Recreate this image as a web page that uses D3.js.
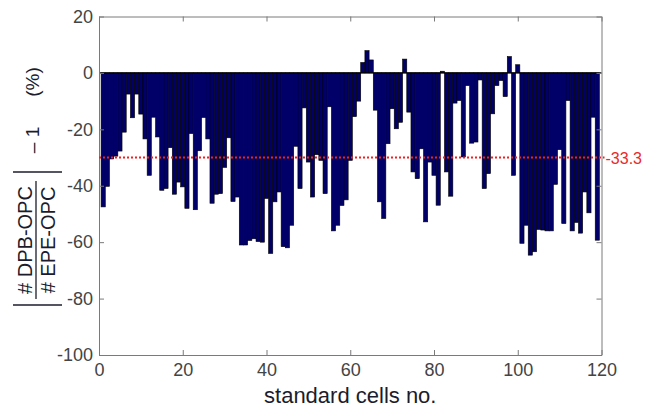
<!DOCTYPE html>
<html><head><meta charset="utf-8">
<script src="https://cdn.jsdelivr.net/npm/d3@7"></script>
<style>body{margin:0;background:#fff}svg{display:block}</style>
</head><body>
<script>
// ---------- data ----------
const cellNos = d3.range(1, 120); // standard cells 1..119
const deviation = [
 -47.5,-40.2,-30.5,-29.5,-27.7,-21,-7.5,-15.9,-7.5,-14.6,
 -23.4,-36.3,-15.7,-22.7,-41.6,-41,-26.5,-43,-38.7,-40.4,
 -48,-21.5,-48.5,-27.6,-15.8,-23.4,-46.2,-43,-42.8,-33.5,
 -23,-45.6,-44,-61,-61,-59.4,-58.8,-59.8,-60,-44.5,
 -64,-45.7,-42.2,-61.6,-62,-54,-26,-41,-12.4,-31.6,
 -44,-29,-31,-42.8,-12,-56,-54,-47,-45,-31,
 -15.5,-10,3.7,7.9,4.6,-13.2,-45.7,-51.6,-25.1,-12.7,
 -19.8,-17.5,4.9,-13.9,-35.1,-37.5,-26.9,-52.8,-31.6,-36.3,
 -46.9,0.6,-35.1,-43.7,-10.7,-9.8,-29.8,-4.5,-24.9,-24.5,
 -2.5,-41,-35.7,-14.5,-4.5,-2.7,-8.4,5.8,-36.3,2.9,
 -60.4,-54,-64.6,-63.4,-55.5,-55.7,-56,-56,-39.5,-27.2,
 -53.4,-9.8,-56,-53,-56.8,-42.2,-49.6,-15.7,-59.3
];
const xTicks = [0, 20, 40, 60, 80, 100, 120];
const yTicks = [20, 0, -20, -40, -60, -80, -100];
const refLineValue = -30;
const refLabel = "-33.3";
const xLabel = "standard cells no.";

// ---------- layout ----------
const W = 651, H = 408;
const L = 99, R = 601.5, T = 16.5, B = 355;
const x = d3.scaleLinear().domain([0, 120]).range([L, R]);
const y = d3.scaleLinear().domain([-100, 20]).range([B, T]);
const svg = d3.select("body").append("svg").attr("width", W).attr("height", H)
  .style("font-family", "Arial, 'Liberation Sans', sans-serif");

const axisColor = "#7a7a7a", tickText = "#444", labelColor = "#1c1c2c";
const fmt = d => String(d);

// bars
svg.append("g").selectAll("rect").data(deviation).join("rect")
  .attr("x", (d, i) => x(cellNos[i] - 0.5))
  .attr("width", x(1) - x(0))
  .attr("y", d => y(Math.max(0, d)))
  .attr("height", d => Math.abs(y(d) - y(0)))
  .attr("fill", "#000068")
  .attr("stroke", "#000")
  .attr("stroke-width", 0.6);

// baseline
svg.append("line").attr("x1", x(0)).attr("x2", x(120))
  .attr("y1", y(0)).attr("y2", y(0)).attr("stroke", "#000").attr("stroke-width", 1.2);

// axes (box with inward ticks)
const ax = (g, axis) => {
  g.call(axis);
  g.select(".domain").attr("stroke", axisColor);
  g.selectAll(".tick line").attr("stroke", axisColor);
  g.selectAll(".tick text").attr("fill", tickText).attr("font-size", 18);
};
svg.append("g").attr("transform", `translate(0,${B})`)
  .call(g => ax(g, d3.axisBottom(x).tickValues(xTicks).tickFormat(fmt).tickSizeInner(-5).tickSizeOuter(0).tickPadding(8)));
svg.append("g").attr("transform", `translate(0,${T})`)
  .call(g => ax(g, d3.axisTop(x).tickValues(xTicks).tickFormat("").tickSizeInner(-5).tickSizeOuter(0)));
svg.append("g").attr("transform", `translate(${L},0)`)
  .call(g => ax(g, d3.axisLeft(y).tickValues(yTicks).tickFormat(fmt).tickSizeInner(-5).tickSizeOuter(0).tickPadding(6)));
svg.append("g").attr("transform", `translate(${R},0)`)
  .call(g => ax(g, d3.axisRight(y).tickValues(yTicks).tickFormat("").tickSizeInner(-5).tickSizeOuter(0)));

// reference line
svg.append("line").attr("x1", x(0)).attr("x2", x(120) + 3)
  .attr("y1", y(refLineValue)).attr("y2", y(refLineValue))
  .attr("stroke", "#ff1a1a").attr("stroke-width", 2).attr("stroke-dasharray", "2,2");
svg.append("text").attr("x", x(120) + 4).attr("y", y(refLineValue) + 6)
  .attr("fill", "#e82a2a").attr("font-size", 16).text(refLabel);

// x label
svg.append("text").attr("x", (L + R) / 2).attr("y", 403).attr("text-anchor", "middle")
  .attr("fill", labelColor).attr("font-size", 22).text(xLabel);

// y label (rotated pieces)
const yl = svg.append("g").attr("fill", labelColor);
const rot = (X, Y, txt, fs) => yl.append("text")
  .attr("transform", `translate(${X},${Y}) rotate(-90)`)
  .attr("text-anchor", "middle").attr("font-size", fs).text(txt);
rot(32, 240, "# DPB-OPC", 20);
rot(55, 240, "# EPE-OPC", 20);
rot(39, 140, "\u2013 1", 19);
rot(39, 82, "(%)", 19);
yl.append("line").attr("x1", 36).attr("x2", 36).attr("y1", 181).attr("y2", 299)
  .attr("stroke", labelColor).attr("stroke-width", 1.3);
yl.append("line").attr("x1", 13).attr("x2", 62).attr("y1", 305).attr("y2", 305)
  .attr("stroke", labelColor).attr("stroke-width", 1.3);
yl.append("line").attr("x1", 13).attr("x2", 62).attr("y1", 172).attr("y2", 172)
  .attr("stroke", labelColor).attr("stroke-width", 1.3);
</script>
</body></html>
